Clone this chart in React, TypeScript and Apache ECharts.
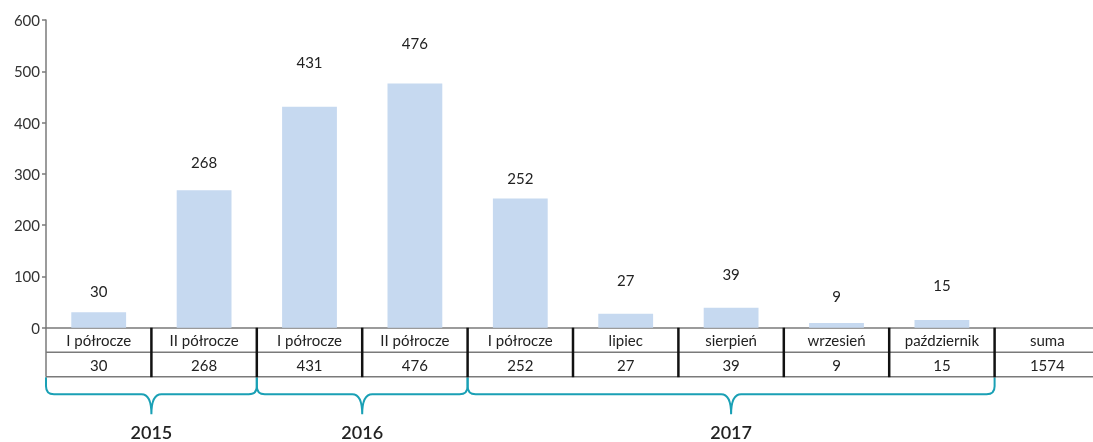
import React, { useEffect, useRef } from "react";
import * as echarts from "echarts";

const categories = [
  "I półrocze",
  "II półrocze",
  "I półrocze",
  "II półrocze",
  "I półrocze",
  "lipiec",
  "sierpień",
  "wrzesień",
  "październik",
  "suma",
];
const barValues = [30, 268, 431, 476, 252, 27, 39, 9, 15];
const tableValues = ["30", "268", "431", "476", "252", "27", "39", "9", "15", "1574"];
const years = ["2015", "2016", "2017"];
// category boundary indices spanned by each year's brace
const yearSpans = [
  [0, 2],
  [2, 4],
  [4, 9],
];
// label lift above each bar (style only)
const labelDistances = [14, 21, 37, 33, 13, 26, 26, 20, 28];

const FONT = "Lato, 'Open Sans', sans-serif";
const GRAY = "#7a7a7a";
const TEAL = "#1aa0b5";

export default function App() {
  const ref = useRef<HTMLDivElement>(null);

  useEffect(() => {
    if (!ref.current) return;
    const chart = echarts.init(ref.current, null, { renderer: "svg" });
    const option: any = {
      animation: false,
      textStyle: { fontFamily: FONT },
      grid: { left: 46, right: 0, top: 20, bottom: 114.3, containLabel: false },
      xAxis: {
        type: "category",
        data: categories,
        boundaryGap: true,
        axisLine: { show: true, lineStyle: { color: GRAY, width: 1.5 } },
        axisTick: { show: false },
        axisLabel: {
          interval: 0,
          margin: 0,
          color: "#222",
          fontFamily: FONT,
          formatter: (value: string, index: number) =>
            `{n|${value}}\n{v|${tableValues[index]}}`,
          rich: {
            n: { fontSize: 15, lineHeight: 25, color: "#222", fontFamily: FONT },
            v: { fontSize: 15, lineHeight: 24, color: "#222", fontFamily: FONT },
          },
        },
        splitLine: { show: false },
      },
      yAxis: {
        type: "value",
        min: 0,
        max: 600,
        interval: 100,
        axisLine: { show: true, lineStyle: { color: GRAY, width: 1.5 } },
        axisTick: { show: true, length: 4, lineStyle: { color: GRAY, width: 1.5 } },
        axisLabel: { color: "#333", fontSize: 15, margin: 6, fontFamily: FONT },
        splitLine: { show: false },
      },
      series: [
        {
          type: "bar",
          barWidth: "52%",
          itemStyle: { color: "#c6d9f0" },
          label: {
            show: true,
            position: "top",
            color: "#222",
            fontSize: 15,
            fontFamily: FONT,
          },
          data: barValues.map((v, i) => ({
            value: v,
            label: { distance: labelDistances[i] },
          })),
        },
      ],
    };
    chart.setOption(option);

    const x0 = chart.convertToPixel({ xAxisIndex: 0 }, 0) as number;
    const x1 = chart.convertToPixel({ xAxisIndex: 0 }, 1) as number;
    const bandW = x1 - x0;
    const boundary = (i: number) => x0 - bandW / 2 + i * bandW;
    const y0 = chart.convertToPixel({ yAxisIndex: 0 }, 0) as number;
    const rowH = 24.5;
    const yMid = y0 + rowH;
    const yBot = y0 + rowH * 2;
    const xEnd = boundary(categories.length);

    const graphics: any[] = [];
    [yMid, yBot].forEach((y) => {
      graphics.push({
        type: "line",
        shape: { x1: boundary(0), y1: y, x2: xEnd, y2: y },
        style: { stroke: GRAY, lineWidth: 1.5 },
        z: 10,
      });
    });
    graphics.push({
      type: "line",
      shape: { x1: boundary(0), y1: y0, x2: boundary(0), y2: yBot },
      style: { stroke: GRAY, lineWidth: 1.5 },
      z: 10,
    });
    for (let i = 1; i < categories.length; i++) {
      const x = boundary(i);
      graphics.push({
        type: "line",
        shape: { x1: x, y1: y0, x2: x, y2: yBot + 0.5 },
        style: { stroke: "#111", lineWidth: 2.5 },
        z: 11,
      });
    }
    const yT = yBot + 0.5;
    const yH = yT + 17;
    const yP = yT + 37;
    yearSpans.forEach(([a, b], k) => {
      const xa = boundary(a);
      const xb = boundary(b);
      const xm = (xa + xb) / 2;
      const d =
        `M${xa} ${yT} L${xa} ${yH - 8} Q${xa} ${yH} ${xa + 8} ${yH} ` +
        `L${xm - 10} ${yH} C${xm - 3} ${yH} ${xm} ${yH + 6} ${xm} ${yP} ` +
        `C${xm} ${yH + 6} ${xm + 3} ${yH} ${xm + 10} ${yH} ` +
        `L${xb - 8} ${yH} Q${xb} ${yH} ${xb} ${yH - 8} L${xb} ${yT}`;
      const name = `yearBrace${k}`;
      echarts.graphic.registerShape(name, echarts.graphic.extendPath(d, {}) as any);
      graphics.push({
        type: name,
        x: 0,
        y: 0,
        style: { fill: "none", stroke: TEAL, lineWidth: 2 },
        z: 9,
      });
      graphics.push({
        type: "text",
        x: xm,
        y: 432,
        style: {
          text: years[k],
          fontSize: 18,
          lineHeight: 18,
          fontWeight: 600,
          fill: "#222",
          fontFamily: FONT,
          align: "center",
          verticalAlign: "middle",
        },
        z: 9,
      });
    });
    chart.setOption({ graphic: graphics });

    return () => chart.dispose();
  }, []);

  return (
    <div
      ref={ref}
      style={{ position: "fixed", left: 0, top: 0, width: 1100, height: 442 }}
    />
  );
}
